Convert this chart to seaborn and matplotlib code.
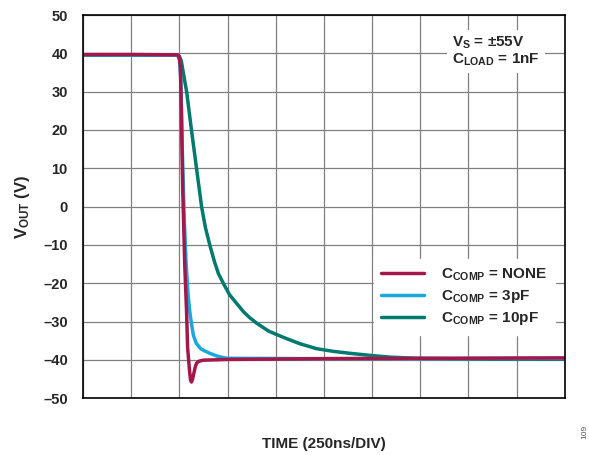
import numpy as np
import pandas as pd
import matplotlib
matplotlib.use("Agg")
import matplotlib.pyplot as plt
import seaborn as sns

# time in divisions (250ns/DIV), output voltage in V
red_t = [0, 1.0, 1.96, 1.99, 2.02, 2.04, 2.07, 2.11, 2.15, 2.17, 2.21, 2.23, 2.25, 2.27,
         2.30, 2.33, 2.36, 2.40, 2.49, 3.0, 5.0, 7.5, 10]
red_v = [39.7, 39.7, 39.6, 39.3, 37, 25, 4, -15, -28, -36.8, -42.8, -45.2, -45.8, -45.2,
         -43.5, -41.8, -40.8, -40.4, -40.1, -39.9, -39.7, -39.6, -39.5]

blue_t = [0, 1.96, 2.0, 2.03, 2.06, 2.10, 2.14, 2.18, 2.22, 2.25, 2.29, 2.35, 2.45, 2.63,
          2.80, 2.98, 5.0, 10]
blue_v = [39.6, 39.5, 38.5, 33, 15, -3, -15, -23, -27.9, -30.5, -33.6, -35.7, -37.2, -38.3,
          -39.1, -39.6, -39.7, -39.6]

teal_t = [0, 1.96, 2.0, 2.04, 2.08, 2.15, 2.25, 2.355, 2.46, 2.54, 2.63, 2.73, 2.81, 2.91,
          3.04, 3.17, 3.34, 3.46, 3.60, 3.85, 4.15, 4.50, 4.85, 5.20, 5.54, 6.0, 6.37, 6.92,
          7.5, 8.5, 10]
teal_v = [39.5, 39.5, 39.2, 38, 35, 30, 20, 10, 0, -5.5, -10, -14.5, -17.5, -20,
          -23, -25, -27.6, -29.0, -30.4, -32.5, -34.1, -35.8, -37.1, -37.8, -38.3, -38.9, -39.3, -39.6,
          -39.7, -39.8, -39.8]

labels = [r"$C_{COMP}$ = NONE", r"$C_{COMP}$ = 3pF", r"$C_{COMP}$ = 10pF"]
colors = ["#A3174B", "#1BA7DE", "#00796E"]
y_ticks = [50, 40, 30, 20, 10, 0, -10, -20, -30, -40, -50]

df = pd.concat([
    pd.DataFrame({"t": teal_t, "v": teal_v, "c": labels[2]}),
    pd.DataFrame({"t": blue_t, "v": blue_v, "c": labels[1]}),
    pd.DataFrame({"t": red_t, "v": red_v, "c": labels[0]}),
])

sns.set_style("white")
plt.rcParams["font.family"] = ["Liberation Sans", "DejaVu Sans"]
plt.rcParams["font.weight"] = "bold"
plt.rcParams["mathtext.fontset"] = "custom"
plt.rcParams["mathtext.rm"] = "Liberation Sans:bold"
plt.rcParams["mathtext.it"] = "Liberation Sans:bold"
plt.rcParams["mathtext.bf"] = "Liberation Sans:bold"

fig = plt.figure(figsize=(5.89, 4.55), dpi=100)
ax = fig.add_axes([0.141, 0.125, 0.818, 0.842])

sns.lineplot(data=df, x="t", y="v", hue="c", palette=dict(zip(labels, colors)),
             hue_order=labels[::-1], estimator=None, sort=False, linewidth=2.5, ax=ax)

ax.set_xlim(0, 10)
ax.set_ylim(-50, 50)
ax.set_xticks(np.arange(0, 11, 1))
ax.set_xticklabels([])
ax.set_yticks(y_ticks)
ax.set_yticklabels([str(v).replace("-", "\u2013") for v in y_ticks], fontsize=10.5, fontweight="bold")
ax.tick_params(length=0, pad=11)
ax.grid(True, color="#808080", linewidth=0.9)
ax.set_axisbelow(True)
for s in ax.spines.values():
    s.set_color("black")
    s.set_linewidth(1.2)

ax.set_xlabel("TIME (250ns/DIV)", fontsize=11, fontweight="bold", labelpad=17)
ax.set_ylabel(r"$V_{OUT}$ (V)", fontsize=12, fontweight="bold", labelpad=8)

handles, labs = ax.get_legend_handles_labels()
order = [labs.index(l) for l in labels]
leg = ax.legend([handles[i] for i in order], [labs[i] for i in order],
                loc="lower right", bbox_to_anchor=(0.995, 0.145), fontsize=11,
                frameon=True, fancybox=False, framealpha=1, edgecolor="white",
                handlelength=2.8, handletextpad=1.1, labelspacing=0.35, borderpad=0.5)
for line in leg.get_lines():
    line.set_linewidth(2.5)

ax.text(0.766, 0.905, "$V_S$ = \u00b155V\n$C_{LOAD}$ = 1nF", transform=ax.transAxes,
        fontsize=11, fontweight="bold", va="center", ha="left", linespacing=1.0,
        bbox=dict(facecolor="white", edgecolor="none", pad=4))

fig.text(0.999, 0.035, "109", rotation=90, fontsize=6, color="#555555",
         fontweight="normal", ha="right", va="bottom")

fig.savefig("out.png", dpi=100)
